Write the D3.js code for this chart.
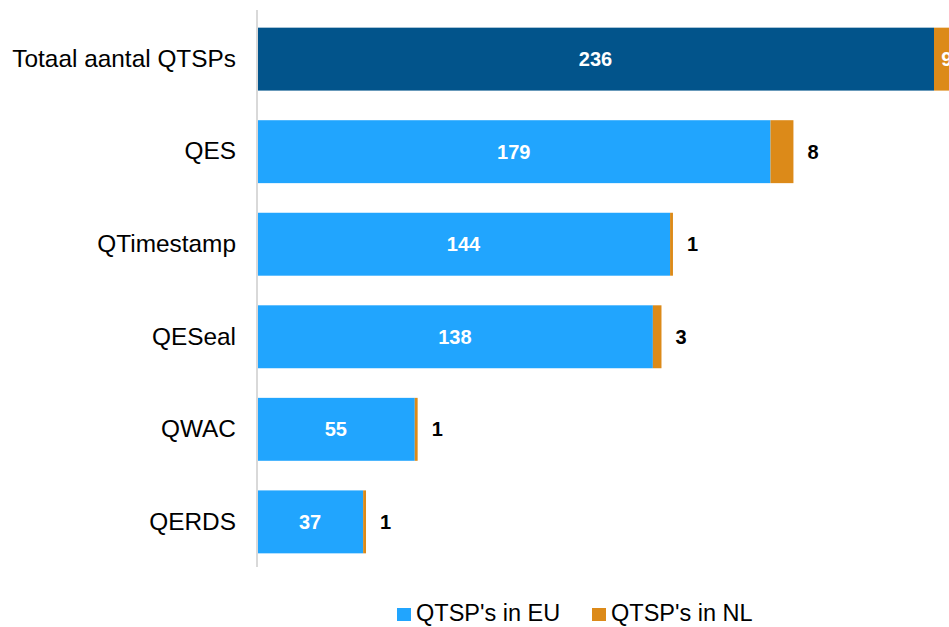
<!DOCTYPE html>
<html><head><meta charset="utf-8">
<script src="https://cdn.jsdelivr.net/npm/d3@7"></script>
<style>html,body{margin:0;padding:0;background:#fff;overflow:hidden}</style>
</head><body>
<svg id="c" width="949" height="627"></svg>
<script>
const categories = ["Totaal aantal QTSPs","QES","QTimestamp","QESeal","QWAC","QERDS"];
const euValues = [236,179,144,138,55,37];
const nlValues = [9,8,1,3,1,1];
const seriesNames = ["QTSP's in EU","QTSP's in NL"];

const svg = d3.select("#c");
const font = "'Liberation Sans', Arial, sans-serif";
const colLight = "#21a5fe", colDark = "#02548b", colOrange = "#dc8a19";

const x = d3.scaleLinear().domain([0,236]).range([257,934]);
const y = d3.scaleBand().domain(categories).range([11,570]).paddingInner(0.32).paddingOuter(0.18);

const rows = categories.map((c,i)=>({c, eu:euValues[i], nl:nlValues[i], i}));

const g = svg.append("g");
g.selectAll("rect.eu").data(rows).enter().append("rect")
  .attr("x", x(0)).attr("y", d=>y(d.c))
  .attr("width", d=>x(d.eu)-x(0)).attr("height", y.bandwidth())
  .attr("fill", d=>d.i===0?colDark:colLight);
g.selectAll("rect.nl").data(rows).enter().append("rect")
  .attr("x", d=>x(d.eu)).attr("y", d=>y(d.c))
  .attr("width", d=>x(d.eu+d.nl)-x(d.eu)).attr("height", y.bandwidth())
  .attr("fill", colOrange);

svg.append("line").attr("x1",257).attr("x2",257).attr("y1",10).attr("y2",567)
  .attr("stroke","#d9d9d9").attr("stroke-width",2);

const ax = svg.append("g").attr("transform","translate(236,0)")
  .call(d3.axisLeft(y).tickSize(0).tickPadding(0));
ax.select(".domain").remove();
ax.selectAll("text").attr("font-family",font).attr("font-size",24.4).attr("fill","#000");

g.selectAll("text.eu").data(rows).enter().append("text")
  .attr("x", d=>(x(0)+x(d.eu))/2).attr("y", d=>y(d.c)+y.bandwidth()/2)
  .attr("dy","0.35em").attr("text-anchor","middle")
  .attr("font-family",font).attr("font-size",20).attr("font-weight","bold").attr("fill","#fff")
  .text(d=>d.eu);

g.selectAll("text.nl").data(rows).enter().append("text")
  .attr("x", d=>d.i===0 ? (x(d.eu)+x(d.eu+d.nl))/2 : x(d.eu+d.nl)+14)
  .attr("y", d=>y(d.c)+y.bandwidth()/2)
  .attr("dy","0.35em").attr("text-anchor", d=>d.i===0?"middle":"start")
  .attr("font-family",font).attr("font-size",20).attr("font-weight","bold")
  .attr("fill", d=>d.i===0?"#fff":"#000")
  .text(d=>d.nl);

const leg = [{n:seriesNames[0],c:colLight,x:397},{n:seriesNames[1],c:colOrange,x:592}];
const lg = svg.append("g");
leg.forEach(l=>{
  lg.append("rect").attr("x",l.x).attr("y",608).attr("width",14).attr("height",13).attr("fill",l.c);
  lg.append("text").attr("x",l.x+19).attr("y",621).attr("font-family",font).attr("font-size",23.5)
    .attr("fill","#000").text(l.n);
});
</script>
</body></html>
